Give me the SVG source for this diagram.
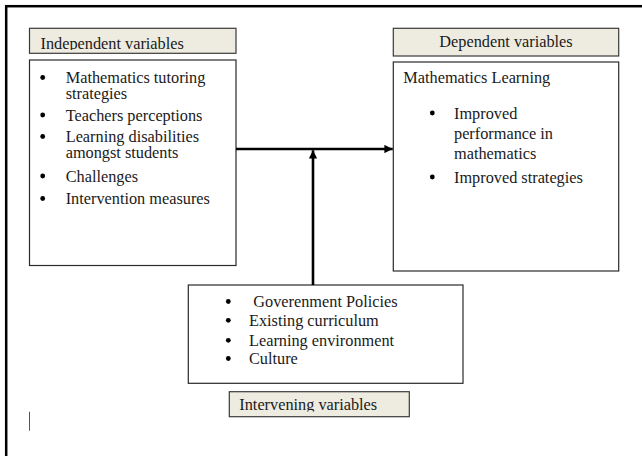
<svg xmlns="http://www.w3.org/2000/svg" width="642" height="456" viewBox="0 0 642 456">
<style>
text{font-family:'Liberation Serif','DejaVu Serif',serif;font-size:16.3px;fill:#1a1a1a}
.hdr{fill:#eeece1;stroke:#3a3a3a;stroke-width:1.2}
.box{fill:#fff;stroke:#2a2a2a;stroke-width:1.2}
.conn{stroke:#000;stroke-width:2.6;fill:none}
</style>
<defs>
<marker id="ah" viewBox="0 0 10 10" refX="10" refY="5" markerWidth="3.4" markerHeight="3.2" orient="auto" markerUnits="strokeWidth">
<path d="M0,0 L10,5 L0,10 z" fill="#000"/>
</marker>
<clipPath id="clipInd"><rect x="29" y="28" width="208" height="22"/></clipPath>
<clipPath id="clipInt"><rect x="229" y="391" width="181" height="20.5"/></clipPath>
</defs>
<rect x="0" y="0" width="642" height="456" fill="#fff"/>
<rect x="6.2" y="6.2" width="700" height="500" fill="none" stroke="#000" stroke-width="2.5"/>

<g id="independent-header">
<rect class="hdr" x="29.5" y="28.3" width="206.5" height="25"/>
<text x="40.5" y="49" clip-path="url(#clipInd)" font-family="Liberation Serif, serif">Independent variables</text>
</g>

<g id="independent" font-family="Liberation Serif, serif">
<rect class="box" x="29.5" y="60" width="206.5" height="205.5"/>
<circle cx="42.7" cy="77.5" r="2.4" fill="#000"/>
<text x="65.7" y="83.3">Mathematics tutoring</text>
<text x="65.7" y="99">strategies</text>
<circle cx="42.7" cy="115" r="2.4" fill="#000"/>
<text x="65.7" y="120.7">Teachers perceptions</text>
<circle cx="42.7" cy="136.5" r="2.4" fill="#000"/>
<text x="65.7" y="142.3">Learning disabilities</text>
<text x="65.7" y="158.3">amongst students</text>
<circle cx="42.7" cy="176" r="2.4" fill="#000"/>
<text x="65.7" y="181.7">Challenges</text>
<circle cx="42.7" cy="198.5" r="2.4" fill="#000"/>
<text x="65.7" y="204.3">Intervention measures</text>
</g>

<g id="dependent-header">
<rect class="hdr" x="393.3" y="28.3" width="225.4" height="27.7"/>
<text x="506" y="47.3" text-anchor="middle">Dependent variables</text>
</g>

<g id="dependent">
<rect class="box" x="393.3" y="62" width="225.4" height="209"/>
<text x="403.3" y="83.3">Mathematics Learning</text>
<circle cx="432.3" cy="113" r="2.4" fill="#000"/>
<text x="454" y="118.7">Improved</text>
<text x="454" y="139">performance in</text>
<text x="454" y="159.3">mathematics</text>
<circle cx="432.3" cy="177" r="2.4" fill="#000"/>
<text x="454" y="182.7">Improved strategies</text>
</g>

<g id="intervening">
<rect class="box" x="188.3" y="285" width="274.7" height="98.3"/>
<circle cx="228.3" cy="301.5" r="2.4" fill="#000"/>
<text x="253.3" y="307.3">Goverenment Policies</text>
<circle cx="228.3" cy="320.3" r="2.4" fill="#000"/>
<text x="249" y="326">Existing curriculum</text>
<circle cx="228.3" cy="340.3" r="2.4" fill="#000"/>
<text x="249" y="346">Learning environment</text>
<circle cx="228.3" cy="358.5" r="2.4" fill="#000"/>
<text x="249" y="364.3">Culture</text>
</g>

<g id="intervening-header">
<rect class="hdr" x="229.3" y="391.7" width="180" height="25"/>
<text x="239.3" y="410" clip-path="url(#clipInt)">Intervening variables</text>
</g>

<g id="connectors">
<line class="conn" x1="236" y1="149" x2="392.7" y2="149" marker-end="url(#ah)"/>
<line class="conn" x1="313" y1="285" x2="313" y2="150.3" marker-end="url(#ah)"/>
</g>

<line x1="29.5" y1="411.7" x2="29.5" y2="430.7" stroke="#555" stroke-width="1"/>
</svg>
